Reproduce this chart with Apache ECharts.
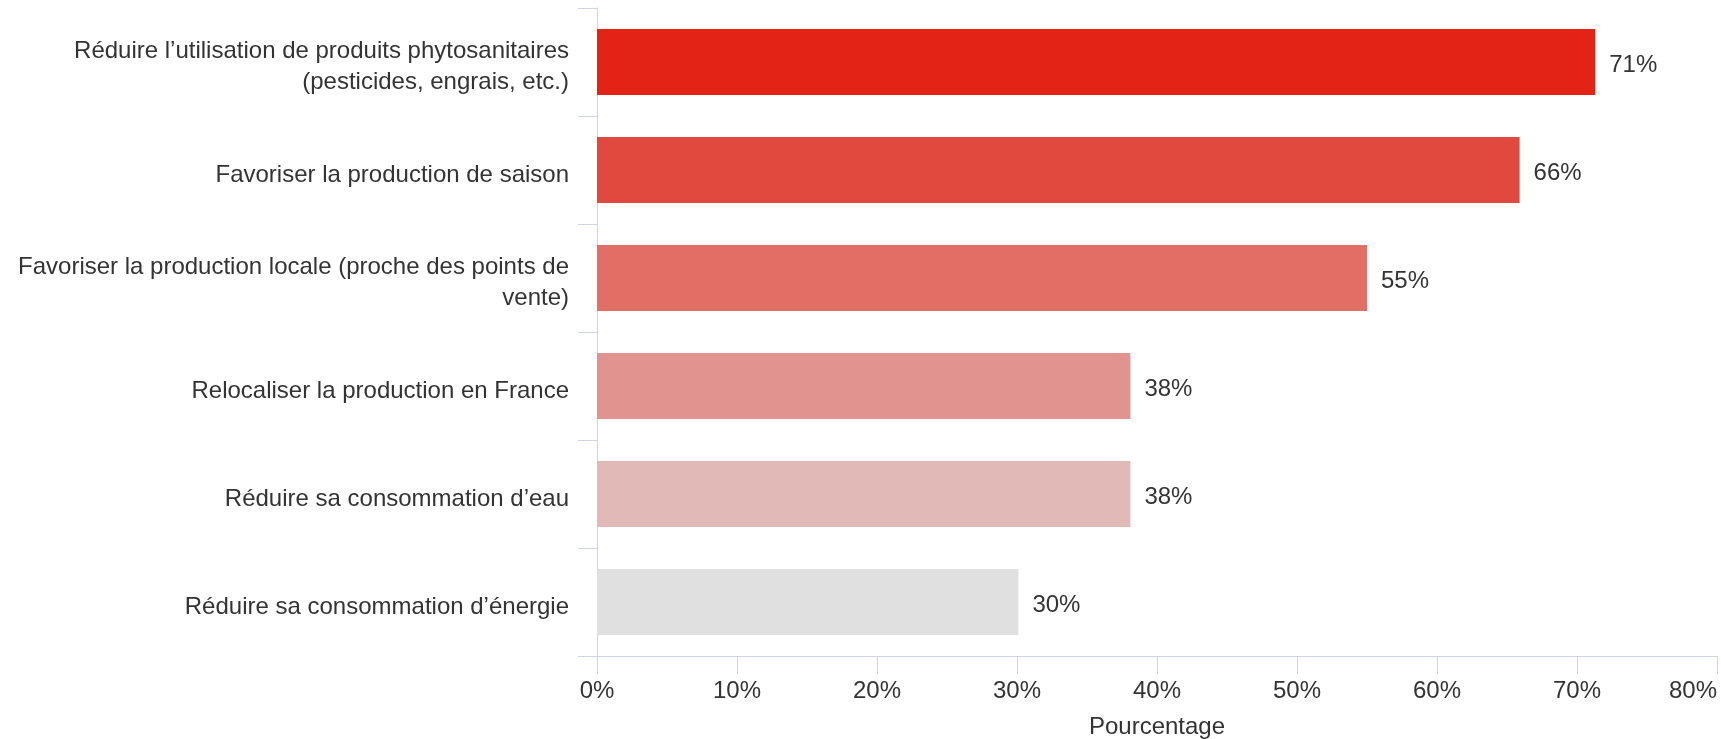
<!DOCTYPE html>
<html>
<head>
<meta charset="utf-8">
<script src="https://cdn.jsdelivr.net/npm/echarts@6/dist/echarts.min.js"></script>
<style>
html,body{margin:0;padding:0;background:#fff;overflow:hidden;}
#chart{width:1721px;height:739px;}
</style>
</head>
<body>
<div id="chart"></div>
<script>
const categories = [
  "Réduire l’utilisation de produits phytosanitaires\n(pesticides, engrais, etc.)",
  "Favoriser la production de saison",
  "Favoriser la production locale (proche des points de\nvente)",
  "Relocaliser la production en France",
  "Réduire sa consommation d’eau",
  "Réduire sa consommation d’énergie"
];
const values = [71.3, 65.9, 55.0, 38.1, 38.1, 30.1];
const barColors = ["#e32315", "#e2493e", "#e26f66", "#e1948f", "#e1bab7", "#e0e0e0"];
const xTicks = { min: 0, max: 80, interval: 10 };
const axisName = "Pourcentage";

const chart = echarts.init(document.getElementById('chart'), null, {renderer: 'canvas'});
const font = "Arial, 'Liberation Sans', sans-serif";
const axisColor = "#ccd6eb";
chart.setOption({
  animation: false,
  textStyle: { fontFamily: font },
  grid: { left: 597, right: 4, top: 8, bottom: 83, containLabel: false, outerBoundsMode: 'none' },
  xAxis: {
    type: 'value',
    min: xTicks.min, max: xTicks.max, interval: xTicks.interval,
    name: axisName,
    nameLocation: 'middle',
    nameGap: 59,
    nameTextStyle: { color: '#333', fontSize: 24, fontFamily: font },
    axisLine: { show: true, lineStyle: { color: axisColor, width: 1 } },
    axisTick: { show: true, length: 18, lineStyle: { color: axisColor } },
    splitLine: { show: false },
    axisLabel: { color: '#333', fontSize: 24, fontFamily: font, margin: 23, formatter: '{value}%', alignMaxLabel: 'right' }
  },
  yAxis: {
    type: 'category',
    data: categories,
    inverse: true,
    boundaryGap: true,
    axisLine: { show: true, lineStyle: { color: axisColor, width: 1 } },
    axisTick: { show: true, length: 19, lineStyle: { color: axisColor } },
    axisLabel: {
      color: '#333', fontSize: 24, fontFamily: font, margin: 28, lineHeight: 31, align: 'right',
      formatter: v => '{s| }\n' + v,
      rich: { s: { fontSize: 1, lineHeight: 10 } }
    }
  },
  series: [{
    type: 'bar',
    data: values.map((v, i) => ({ value: v, itemStyle: { color: barColors[i] } })),
    barWidth: 66,
    label: {
      show: true,
      position: 'right',
      distance: 14,
      offset: [0, 3],
      color: '#333',
      fontSize: 24,
      fontFamily: font,
      formatter: p => Math.round(p.value) + '%'
    }
  }]
});
</script>
</body>
</html>
